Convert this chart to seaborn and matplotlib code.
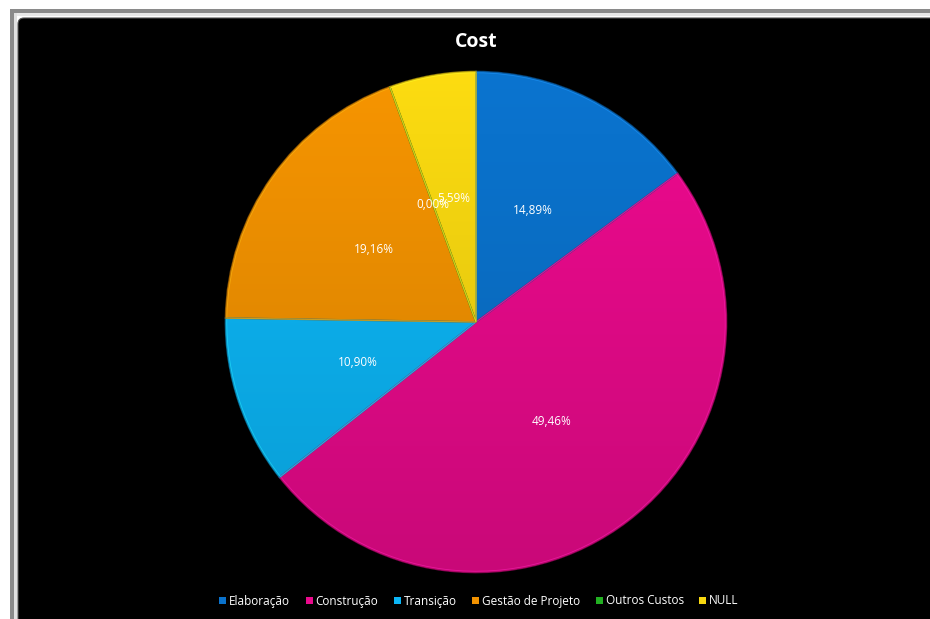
import numpy as np
import matplotlib
matplotlib.use("Agg")
import matplotlib.pyplot as plt
import matplotlib.colors as mcolors
from matplotlib.patches import FancyBboxPatch, Rectangle, Patch, Wedge
import seaborn as sns

# Cost share per project phase
categories = ["Elaboração", "Construção", "Transição", "Gestão de Projeto", "Outros Custos", "NULL"]
shares = [14.89, 49.46, 10.90, 19.16, 0.00, 5.59]
hex_colors = ["#0A72CC", "#EA0A8C", "#0CB6F6", "#F29200", "#22B022", "#F8D810"]

sns.set_theme(style="white")
plt.rcParams["font.family"] = ["Open Sans", "DejaVu Sans"]
palette = sns.color_palette(hex_colors)

W, H = 930, 619
fig = plt.figure(figsize=(W / 100, H / 100), dpi=100, facecolor="white")

# window frame around the chart area
frame = fig.add_axes([0, 0, 1, 1])
frame.set_xlim(0, W)
frame.set_ylim(H, 0)
frame.axis("off")
frame.add_patch(Rectangle((10, 9), W - 10, 4, facecolor="#8a8a8a", edgecolor="none"))
frame.add_patch(Rectangle((10, 13), W - 10, 3, facecolor="#e8e8e8", edgecolor="none"))
frame.add_patch(Rectangle((10, 9), 4, H - 9, facecolor="#8a8a8a", edgecolor="none"))
frame.add_patch(Rectangle((14, 13), 3, H - 13, facecolor="#e0e0e0", edgecolor="none"))
frame.add_patch(FancyBboxPatch((18, 18), W, H, boxstyle="round,pad=0,rounding_size=6",
                               facecolor="black", edgecolor="#555555", linewidth=0.8))

# pie axes
cx, cy, R = 476, 322, 253
ax = fig.add_axes([(cx - R) / W, (H - cy - R) / H, 2 * R / W, 2 * R / H])
ax.set_facecolor("none")

def fmt(p):
    return f"{p:.2f}".replace(".", ",") + "%"

wedges, texts = ax.pie(shares, colors=palette, startangle=90, counterclock=False,
                       radius=1.0, wedgeprops=dict(linewidth=0))
ax.set_xlim(-1.01, 1.01)
ax.set_ylim(-1.01, 1.01)
ax.set_aspect("equal")
ax.axis("off")

# vertical shading inside each slice
ys = np.linspace(1, 0, 256)[:, None]
for w, col in zip(wedges, palette):
    base = np.array(mcolors.to_rgb(col))
    fac = 0.86 + 0.16 * ys
    img = np.clip(base[None, None, :] * fac[:, :, None], 0, 1)
    img = np.repeat(img, 2, axis=1)
    im = ax.imshow(img, extent=(-1, 1, -1, 1), origin="upper", zorder=1, aspect="auto")
    im.set_clip_path(w)
    w.set_zorder(0)
    ax.add_patch(Wedge(w.center, w.r, w.theta1, w.theta2, facecolor="none",
                       edgecolor=np.clip(base * 0.75, 0, 1), linewidth=1.2, zorder=2, alpha=0.7))
    ax.add_patch(Wedge(w.center, w.r * 0.995, w.theta1, w.theta2, facecolor="none",
                       edgecolor=np.clip(base * 1.15 + 0.08, 0, 1), linewidth=0.6, zorder=2, alpha=0.6))

# percentage labels at half the radius
start = 90.0
total = sum(shares)
for v in shares:
    mid = start - v / total * 360 / 2
    ang = np.deg2rad(mid)
    ax.text(0.5 * np.cos(ang), 0.5 * np.sin(ang), fmt(v), ha="center", va="center",
            color="white", fontsize=8.5, zorder=5)
    start -= v / total * 360

fig.text(cx / W, 1 - 42 / H, "Cost", ha="center", va="center", color="white",
         fontsize=14, fontweight="bold")

handles = [Patch(facecolor=c, edgecolor="none") for c in palette]
leg = fig.legend(handles, categories, loc="center", bbox_to_anchor=(479 / W, 1 - 601 / H),
                 ncol=6, frameon=False, fontsize=8.5, handlelength=0.6, handleheight=0.6,
                 handletextpad=0.25, columnspacing=1.3)
for t in leg.get_texts():
    t.set_color("white")

fig.savefig("out.png", dpi=100, facecolor="white")
